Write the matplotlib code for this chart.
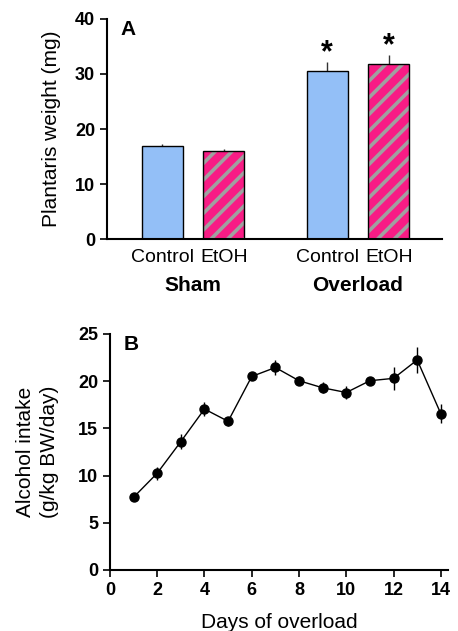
import matplotlib.pyplot as plt
import numpy as np

plt.rcParams['font.family'] = ['Liberation Sans', 'DejaVu Sans']
plt.rcParams['hatch.linewidth'] = 2.6

# panel A
groups = ['Sham', 'Overload']
treat = ['Control', 'EtOH']
weight = [16.9, 16.05, 30.5, 31.9]
weight_err = [0.3, 0.35, 1.6, 1.5]
pos = [0, 1, 2.68, 3.68]

# panel B
days = np.arange(1, 15)
intake = [7.7, 10.25, 13.6, 17.05, 15.75, 20.5, 21.45, 20.05, 19.3, 18.8, 20.05, 20.3, 22.25, 16.55]
intake_err = [0.4, 0.7, 0.8, 0.7, 0.45, 0.35, 0.8, 0.5, 0.6, 0.7, 0.3, 1.2, 1.4, 1.0]

blue = '#93BFF7'
pink = '#F81C85'
grey = '#A0A0A0'

fig = plt.figure(figsize=(4.58, 6.31), dpi=100)
ax1 = fig.add_axes([0.2336, 0.621, 0.7314, 0.349])
ax2 = fig.add_axes([0.240, 0.0967, 0.738, 0.374])

w = 0.667
for i, (p, v, e) in enumerate(zip(pos, weight, weight_err)):
    if i % 2 == 0:
        ax1.bar(p, v, w, color=blue, edgecolor='black', linewidth=1.0, zorder=2)
    else:
        ax1.bar(p, v, w, color=pink, edgecolor=grey, hatch='//', linewidth=0, zorder=2)
        ax1.bar(p, v, w, fill=False, edgecolor='black', linewidth=1.0, zorder=3)
    ax1.errorbar(p, v, yerr=[[0], [e]], fmt='none', ecolor='#333333', elinewidth=1.0, capsize=0, zorder=1)

for p, v, e in zip(pos[2:], weight[2:], weight_err[2:]):
    ax1.text(p, v + e - 1.0, '*', ha='center', va='bottom', fontsize=22, fontweight='bold')

ax1.set_xlim(-0.90, 4.545)
ax1.set_ylim(0, 40)
ax1.set_yticks([0, 10, 20, 30, 40])
ax1.set_xticks(pos)
ax1.set_xticklabels(treat * 2, fontsize=14)
ax1.tick_params(axis='x', length=0, pad=7)
ax1.tick_params(axis='y', direction='out', length=5, width=1.2, labelsize=13)
for t in ax1.get_yticklabels():
    t.set_fontweight('bold')
ax1.set_ylabel('Plantaris weight (mg)', fontsize=15, labelpad=10)
for gx, g in zip([0.5, 3.18], groups):
    ax1.text(gx, -8.5, g, ha='center', va='center', fontsize=15, fontweight='bold')
ax1.text(0.04, 0.995, 'A', transform=ax1.transAxes, fontsize=15, fontweight='bold', va='top')

ax2.errorbar(days, intake, yerr=intake_err, fmt='-o', color='black', markersize=6.5, linewidth=1.0,
             elinewidth=1.0, capsize=0)
ax2.set_xlim(0, 14.3)
ax2.set_ylim(0, 25)
ax2.set_xticks(range(0, 15, 2))
ax2.set_yticks(range(0, 26, 5))
ax2.tick_params(direction='out', length=5, width=1.2, labelsize=13)
for t in ax2.get_xticklabels() + ax2.get_yticklabels():
    t.set_fontweight('bold')
ax2.set_xlabel('Days of overload', fontsize=15, labelpad=10)
ax2.set_ylabel('Alcohol intake\n(g/kg BW/day)', fontsize=15, labelpad=14, linespacing=1.3)
ax2.text(0.04, 0.995, 'B', transform=ax2.transAxes, fontsize=15, fontweight='bold', va='top')

for ax in (ax1, ax2):
    ax.spines['top'].set_visible(False)
    ax.spines['right'].set_visible(False)
    ax.spines['left'].set_linewidth(1.5)
    ax.spines['bottom'].set_linewidth(1.5)

fig.savefig('out.png', dpi=100)
